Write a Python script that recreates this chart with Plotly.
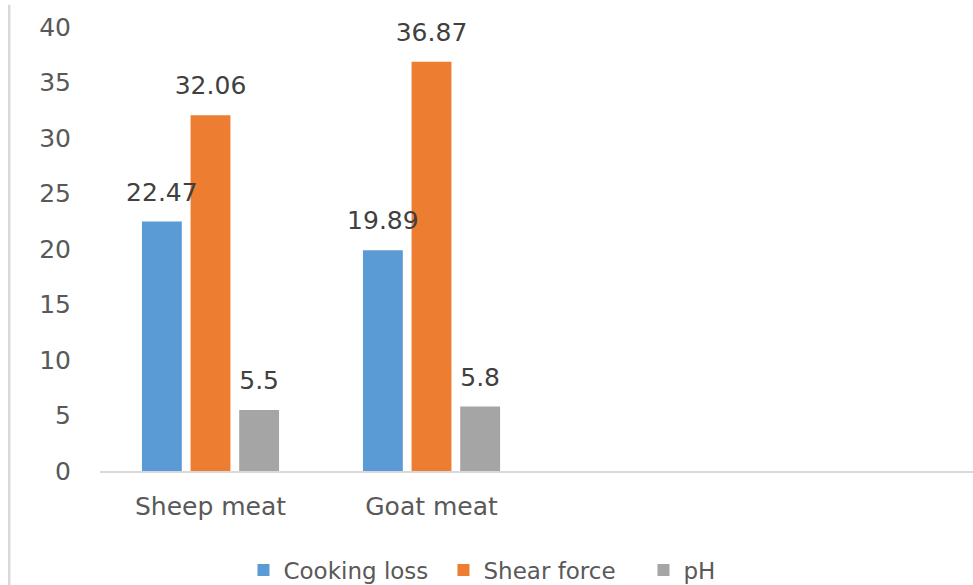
import plotly.graph_objects as go

categories = ["Sheep meat", "Goat meat"]
cooking_loss = [22.47, 19.89]
shear_force = [32.06, 36.87]
ph = [5.5, 5.8]
series_names = ["Cooking loss", "Shear force", "pH"]
colors = ["#5B9BD5", "#ED7D31", "#A5A5A5"]
y_ticks = [0, 5, 10, 15, 20, 25, 30, 35, 40]

xpos = list(range(len(categories)))
font_family = "DejaVu Sans, Liberation Sans, sans-serif"

fig = go.Figure()
for name, vals, col in zip(series_names, [cooking_loss, shear_force, ph], colors):
    fig.add_trace(go.Bar(
        x=xpos, y=vals, name=name, marker=dict(color=col, line=dict(width=0)),
        offsetgroup=name, alignmentgroup="g",
    ))
for name, vals in zip(series_names, [cooking_loss, shear_force, ph]):
    fig.add_trace(go.Scatter(
        x=xpos, y=vals, mode="markers+text", text=[str(v) for v in vals],
        textposition="top center", showlegend=False, hoverinfo="skip",
        offsetgroup=name, alignmentgroup="g", cliponaxis=False,
        marker=dict(size=22, opacity=0),
        textfont=dict(size=25, color="#404040", family=font_family),
    ))

fig.update_layout(
    width=973, height=585,
    margin=dict(l=100, r=0, t=27, b=114, autoexpand=False),
    paper_bgcolor="white", plot_bgcolor="white",
    barmode="group", bargap=0.34, bargroupgap=0.18,
    scattermode="group", scattergap=0.34,
    font=dict(family=font_family, size=25, color="#595959"),
    showlegend=True,
    legend=dict(orientation="h", x=0.508, xanchor="center",
                y=-0.223, yanchor="middle", entrywidth=155, entrywidthmode="pixels",
                font=dict(size=23, color="#595959")),
    xaxis=dict(range=[-0.5, 3.45], tickvals=xpos, ticktext=categories,
               showgrid=False, zeroline=False, showline=True, linecolor="#d9d9d9",
               linewidth=1.5, ticks="", ticklabelstandoff=12, tickangle=0,
               automargin=False,
               tickfont=dict(size=25, color="#595959")),
    yaxis=dict(range=[0, 40], tickvals=y_ticks, showgrid=False, zeroline=False,
               showline=False, ticks="", ticklabelstandoff=28, automargin=False,
               tickfont=dict(size=25, color="#595959")),
    shapes=[dict(type="line", xref="paper", yref="paper", x0=-0.104, x1=-0.104,
                 y0=-0.27, y1=1.05, line=dict(color="#d9d9d9", width=2.5))],
)

fig.write_html("out.html")
